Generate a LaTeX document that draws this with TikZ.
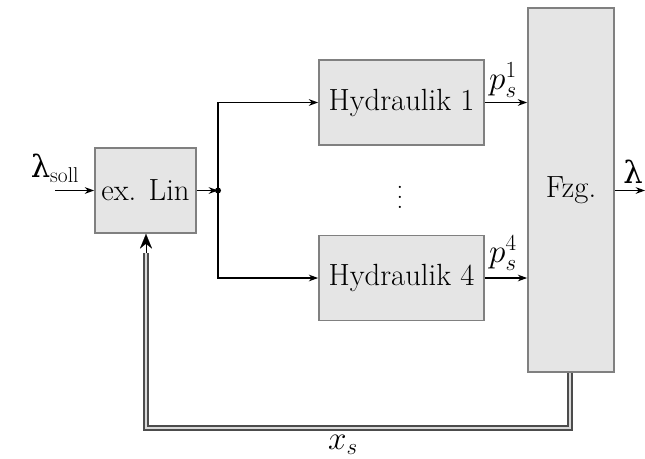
\documentclass[tikz,border=0pt]{standalone}
\usepackage{fontspec}
\newfontfamily\grk{DejaVu Serif}
\usetikzlibrary{arrows.meta}
\begin{document}
\begin{tikzpicture}[x=0.75pt,y=-0.75pt,
  blk/.style={draw=black!50,fill=black!10,line width=1.3pt,inner sep=0pt,font=\fontsize{23}{27}\selectfont},
  sig/.style={line width=1.1pt,-{Stealth[length=7pt,width=5pt]}},
  lbl/.style={font=\fontsize{23}{27}\selectfont,inner sep=0pt},
  vec/.style={draw=black!70,line width=1.6pt,double=white!85!black,double distance=0.9pt}]
\useasboundingbox (0,0) rectangle (645,458);
\node[blk,minimum width=75.75pt,minimum height=63.75pt] (lin) at (145.5,190.5) {ex. Lin};
\node[blk,minimum width=123.75pt,minimum height=63.75pt] (h1) at (401.5,102.5) {Hydraulik 1};
\node[blk,minimum width=123.75pt,minimum height=63.75pt] (h4) at (401.5,278) {Hydraulik 4};
\node[blk,minimum width=64.5pt,minimum height=273pt] (fzg) at (571,190) {Fzg.};
\coordinate (in) at (55,190.5);
\coordinate (out) at (645,190.5);
\coordinate (j) at (218,190.5);
\node[lbl] (ls) at (55,168) {{\grk λ}$_{\mathrm{soll}}$};
\node[lbl] (lo) at (633,172) {\grk λ};
\node[lbl] (p1) at (503,80) {$p_s^1$};
\node[lbl] (p4) at (503,253) {$p_s^4$};
\node[lbl,font=\fontsize{20}{7.5}\selectfont,align=center] (dots) at (400,197) {.\\.\\.};
\node[lbl] (xs) at (343,445) {$x_s$};
\draw[sig] (in) -- (lin.west);
\draw[sig] (lin.east) -- (j);
\fill (j) circle (3);
\draw[sig] (j) |- (h1.west);
\draw[sig] (j) |- (h4.west);
\draw[sig] (h1.east) -- (h1.east -| fzg.west);
\draw[sig] (h4.east) -- (h4.east -| fzg.west);
\draw[sig] (fzg.east |- out) -- (out);
\coordinate (fb1) at (570,428);
\coordinate (fb2) at (146,428);
\draw[vec] (fzg.south -| fb1) -- (fb1) -- (fb2) -- ([yshift=-14]lin.south -| fb2);
\draw[line width=0.1pt,-{Stealth[length=11pt,width=9pt]}] ([yshift=-14]lin.south -| fb2) -- (lin.south -| fb2);
\end{tikzpicture}
\end{document}
